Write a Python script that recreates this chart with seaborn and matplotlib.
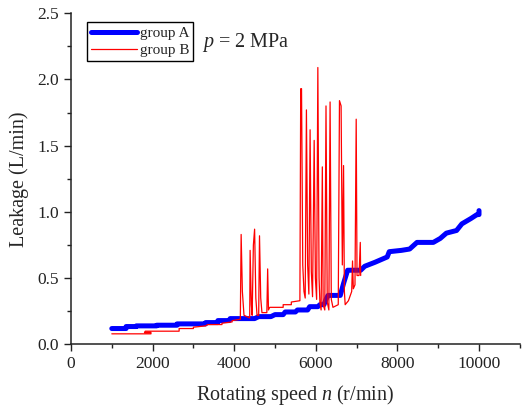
import pandas as pd
import matplotlib
matplotlib.use("Agg")
import matplotlib.pyplot as plt
import seaborn as sns
from matplotlib.ticker import MultipleLocator

# group A: speed (r/min) and leakage (L/min)
speed_a = [1000, 1350, 1350, 1600, 1600, 2100, 2100, 2600, 2600, 3300, 3300, 3600,
           3600, 3880, 3900, 4500, 4600, 4900, 5000, 5200, 5250, 5500, 5550, 5800,
           5850, 6050, 6100, 6200, 6250, 6300, 6600, 6680, 6780, 7100, 7200, 7450,
           7600, 7750, 7800, 8100, 8300, 8480, 8880, 9050, 9200, 9450, 9580, 9800,
           9950, 10000, 10000]
leak_a = [0.12, 0.12, 0.135, 0.135, 0.14, 0.14, 0.145, 0.145, 0.155, 0.155, 0.165, 0.165,
          0.18, 0.18, 0.195, 0.195, 0.21, 0.21, 0.225, 0.225, 0.245, 0.245, 0.26, 0.26,
          0.285, 0.285, 0.30, 0.30, 0.34, 0.37, 0.37, 0.46, 0.56, 0.56, 0.59, 0.62,
          0.64, 0.66, 0.70, 0.71, 0.72, 0.77, 0.77, 0.80, 0.84, 0.86, 0.91, 0.95,
          0.98, 0.98, 1.01]

# group B: speed (r/min) and leakage (L/min)
speed_b = [1000, 1960, 1960, 1800, 1820, 2650, 2650, 3000, 3000, 3300, 3350, 3700,
           3700, 3950, 3950, 4150, 4170, 4200, 4240, 4380, 4390, 4420, 4440, 4470,
           4500, 4530, 4560, 4600, 4620, 4650, 4680, 4800, 4820, 4840, 4870, 5200,
           5200, 5400, 5400, 5610, 5630, 5650, 5680, 5710, 5740, 5770, 5800, 5830,
           5860, 5890, 5920, 5960, 5990, 6020, 6050, 6080, 6100, 6130, 6160, 6180,
           6220, 6250, 6280, 6320, 6350, 6380, 6420, 6550, 6580, 6620, 6650, 6680,
           6700, 6720, 6800, 6880, 6900, 6920, 6960, 6990, 7010, 7060, 7090, 7100]
leak_b = [0.08, 0.08, 0.09, 0.09, 0.10, 0.10, 0.12, 0.12, 0.13, 0.14, 0.15, 0.15,
          0.16, 0.17, 0.18, 0.19, 0.83, 0.40, 0.22, 0.20, 0.71, 0.30, 0.22, 0.75,
          0.87, 0.35, 0.22, 0.22, 0.82, 0.35, 0.24, 0.24, 0.57, 0.26, 0.28, 0.28,
          0.30, 0.30, 0.32, 0.33, 1.93, 1.93, 0.60, 0.40, 0.35, 1.77, 0.60, 0.38,
          1.62, 0.55, 0.36, 1.54, 0.50, 0.34, 2.09, 0.50, 0.32, 0.26, 1.34, 0.30,
          0.26, 1.80, 0.32, 0.26, 1.83, 0.34, 0.28, 0.30, 1.84, 1.80, 0.60, 1.35,
          0.40, 0.30, 0.33, 0.40, 0.63, 0.42, 0.45, 1.70, 0.52, 0.52, 0.77, 0.52]

df_a = pd.DataFrame({"speed": speed_a, "leak": leak_a})
df_b = pd.DataFrame({"speed": speed_b, "leak": leak_b})

sns.set_style("ticks")
plt.rcParams["font.family"] = ["Liberation Serif", "DejaVu Serif"]
plt.rcParams["mathtext.fontset"] = "custom"
plt.rcParams["mathtext.rm"] = "Liberation Serif"
plt.rcParams["mathtext.it"] = "Liberation Serif:italic"

fig = plt.figure(figsize=(5.24, 4.12), dpi=100)
ax = fig.add_axes([0.1355, 0.164, 0.8565, 0.804])

sns.lineplot(data=df_a, x="speed", y="leak", sort=False, estimator=None,
             color="#0000ff", linewidth=3.6, label="group A", ax=ax)
sns.lineplot(data=df_b, x="speed", y="leak", sort=False, estimator=None,
             color="#ff0000", linewidth=0.9, label="group B", ax=ax)

ax.set_xlim(0, 11000)
ax.set_ylim(0, 2.5)
ax.xaxis.set_major_locator(MultipleLocator(2000))
ax.xaxis.set_minor_locator(MultipleLocator(1000))
ax.yaxis.set_major_locator(MultipleLocator(0.5))
ax.yaxis.set_minor_locator(MultipleLocator(0.25))
ax.yaxis.set_major_formatter(plt.FormatStrFormatter("%.1f"))
ax.tick_params(which="major", direction="out", length=5, width=1, labelsize=12.5, colors="#222222")
ax.tick_params(which="minor", direction="out", length=3, width=1, colors="#222222")
for side in ["left", "bottom"]:
    ax.spines[side].set_linewidth(1.1)
    ax.spines[side].set_color("#222222")
sns.despine(ax=ax)

ax.set_xlabel("Rotating speed $n$ (r/min)", fontsize=14.5, labelpad=8)
ax.set_ylabel("Leakage (L/min)", fontsize=14.5, labelpad=6)

ax.text(0.292, 0.91, "$p$ = 2 MPa", transform=ax.transAxes, fontsize=14.5,
        va="center", ha="left")

leg = ax.legend(loc="upper left", bbox_to_anchor=(0.036, 0.972), fontsize=11,
                frameon=True, fancybox=False, framealpha=1, edgecolor="black",
                handlelength=3.0, handletextpad=0.2, borderpad=0.25, labelspacing=0.25,
                borderaxespad=0)
leg.get_frame().set_linewidth(1.0)

fig.savefig("out.png", dpi=100)
